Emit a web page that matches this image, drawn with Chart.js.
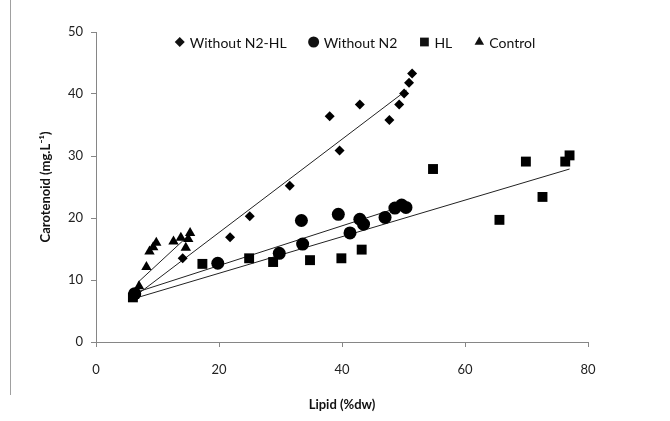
<!DOCTYPE html>
<html>
<head>
<meta charset="utf-8">
<script src="https://cdn.jsdelivr.net/npm/chart.js@4/dist/chart.umd.min.js"></script>
<style>
  html, body { margin: 0; padding: 0; background: #fff; }
  #wrap { position: relative; width: 670px; height: 421px; }
  #frame { position: absolute; left: 10px; top: 0; width: 0; height: 395px; border-left: 1px solid #a0a0a0; }
  canvas { position: absolute; left: 0; top: 0; }
</style>
</head>
<body>
<div id="wrap">
  <canvas id="c" width="670" height="421"></canvas>
  <div id="frame"></div>
</div>
<script>
// ---- data ----
const seriesNames = ["Without N2-HL", "Without N2", "HL", "Control"];

const lipidN2HL = [6.5, 14.1, 21.8, 25.0, 31.5, 38.0, 39.6, 42.9, 47.7, 49.3, 50.1, 50.9, 51.4];
const carN2HL   = [7.5, 13.5, 16.9, 20.3, 25.2, 36.4, 30.9, 38.3, 35.8, 38.3, 40.1, 41.8, 43.3];

const lipidN2 = [6.3, 19.8, 29.8, 33.4, 33.6, 39.4, 41.3, 42.9, 43.5, 47.0, 48.6, 49.7, 50.4];
const carN2   = [7.8, 12.7, 14.3, 19.6, 15.8, 20.6, 17.6, 19.8, 19.0, 20.1, 21.6, 22.1, 21.7];

const lipidHL = [6.0, 17.3, 24.9, 28.8, 34.8, 39.9, 43.2, 54.8, 65.6, 69.9, 72.6, 76.3, 77.0];
const carHL   = [7.2, 12.6, 13.5, 12.9, 13.2, 13.5, 14.9, 27.9, 19.7, 29.1, 23.4, 29.1, 30.1];

const lipidCtrl = [6.2, 7.0, 8.2, 8.7, 9.3, 9.8, 12.6, 13.8, 14.6, 15.0, 15.3];
const carCtrl   = [7.4, 9.0, 12.1, 14.6, 15.3, 16.0, 16.2, 16.8, 15.2, 16.6, 17.6];

// trend line end points (lipid, carotenoid)
const trendN2HL = { x: [6.5, 50.5], y: [7.5, 40.6] };
const trendN2   = { x: [6.5, 50.5], y: [8.0, 22.1] };
const trendHL   = { x: [6.5, 77.0], y: [7.1, 27.9] };
const trendCtrl = { x: [6.8, 15.4], y: [9.6, 17.5] };

const xTicks = [0, 20, 40, 60, 80];
const yTicks = [0, 10, 20, 30, 40, 50];

// ---- build ----
const pts = (xs, ys) => xs.map((x, i) => ({ x: x, y: ys[i] }));
const INK = '#000000';
const AXIS = '#868686';
const FONT = 'Lato, "Open Sans", sans-serif';

function scatterSet(label, xs, ys, style, r, legendR) {
  return {
    type: 'scatter', label: label, data: pts(xs, ys),
    pointStyle: style, pointRadius: r, pointHoverRadius: r, legendRadius: legendR,
    backgroundColor: INK, borderColor: INK, borderWidth: 0, order: 1
  };
}
function trendSet(t) {
  return {
    type: 'line', label: '_trend', data: pts(t.x, t.y),
    showLine: true, pointRadius: 0, borderColor: '#222', borderWidth: 1,
    fill: false, tension: 0, order: 2
  };
}

const data = {
  datasets: [
    scatterSet(seriesNames[0], lipidN2HL, carN2HL, 'rectRot', 5, 5),
    scatterSet(seriesNames[1], lipidN2, carN2, 'circle', 6.5, 5.5),
    scatterSet(seriesNames[2], lipidHL, carHL, 'rect', 7, 6.2),
    scatterSet(seriesNames[3], lipidCtrl, carCtrl, 'triangle', 6, 5.5)
  ].concat([trendN2HL, trendN2, trendHL, trendCtrl].map(trendSet))
};

// legend drawn inside the top of the plot area, in one row
const inlineLegend = {
  id: 'inlineLegend',
  afterDraw(chart) {
    const ctx = chart.ctx;
    const items = chart.data.datasets.filter(d => d.label !== '_trend');
    ctx.save();
    ctx.font = '14px ' + FONT;
    ctx.textBaseline = 'middle';
    ctx.fillStyle = '#111';
    const markerW = 10, gap = 5, spacing = 22;
    const widths = items.map(d => markerW + gap + ctx.measureText(d.label).width);
    const total = widths.reduce((a, b) => a + b, 0) + spacing * (items.length - 1);
    let x = 355 - total / 2;
    const y = chart.chartArea.top + 10;
    items.forEach((d, i) => {
      Chart.helpers.drawPoint(ctx, { pointStyle: d.pointStyle, radius: d.legendRadius, rotation: 0, borderWidth: 0 },
                              x + markerW / 2, y);
      ctx.fillStyle = '#111';
      ctx.fillText(d.label, x + markerW + gap, y + 1);
      x += widths[i] + spacing;
    });
    ctx.restore();
  }
};

const PAD = { left: 36, right: 82, top: 32, bottom: 4 };

new Chart(document.getElementById('c'), {
  type: 'scatter',
  data: data,
  plugins: [inlineLegend],
  options: {
    responsive: false,
    devicePixelRatio: 1,
    animation: false,
    layout: { padding: PAD },
    plugins: {
      tooltip: { enabled: false },
      legend: { display: false }
    },
    scales: {
      x: {
        type: 'linear', min: 0, max: 80,
        afterBuildTicks: (s) => { s.ticks = xTicks.map(v => ({ value: v })); },
        afterFit: (s) => { s.height = 421 - 342 - PAD.bottom; },
        grid: { display: true, drawOnChartArea: false, drawTicks: true, tickLength: 5, color: AXIS },
        border: { display: true, color: AXIS, width: 1 },
        ticks: { color: '#222', padding: 15, font: { family: FONT, size: 13 } },
        title: { display: true, text: 'Lipid (%dw)', color: '#111', padding: { top: 4, bottom: 4 },
                 font: { family: FONT, size: 13, weight: 'bold' } }
      },
      y: {
        type: 'linear', min: 0, max: 50,
        afterBuildTicks: (s) => { s.ticks = yTicks.map(v => ({ value: v })); },
        afterFit: (s) => { s.width = 96 - PAD.left; },
        grid: { display: true, drawOnChartArea: false, drawTicks: true, tickLength: 5, color: AXIS },
        border: { display: true, color: AXIS, width: 1 },
        ticks: { color: '#222', padding: 8, font: { family: FONT, size: 13 } },
        title: { display: true, text: 'Carotenoid (mg.L\u207B\u00B9)', color: '#111', padding: { top: 2, bottom: 2 },
                 font: { family: FONT, size: 13, weight: 'bold' } }
      }
    }
  }
});
</script>
</body>
</html>
